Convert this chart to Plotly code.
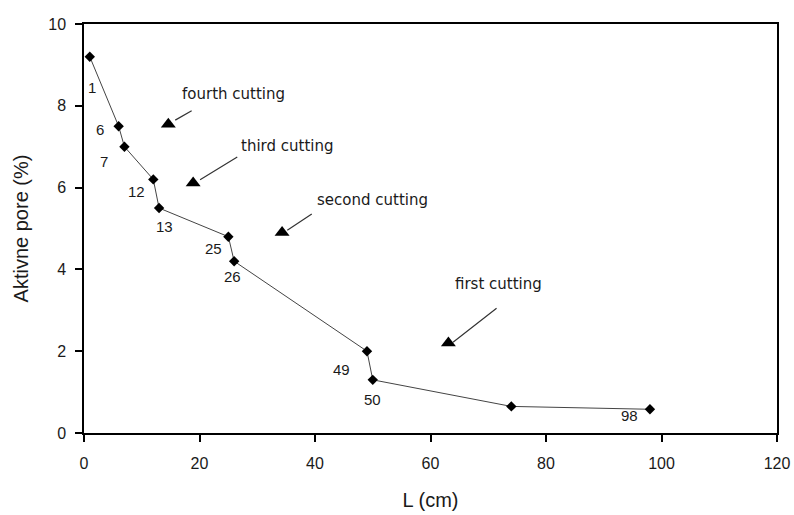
import plotly.graph_objects as go

# Active pore fraction versus sample length L
length_cm = [1, 6, 7, 12, 13, 25, 26, 49, 50, 74, 98]
active_pore = [9.2, 7.5, 7.0, 6.2, 5.5, 4.8, 4.2, 2.0, 1.3, 0.65, 0.58]

# Point labels (sample length), with pixel offsets from each marker
point_labels = ["1", "6", "7", "12", "13", "25", "26", "49", "50", "", "98"]
label_dx = [2, -19, -20, -17, 5, -15, -2, -25, 0, 0, -20]
label_dy = [31, 3, 15, 12, 18, 12, 15, 18, 20, 0, 6]

# Cutting stages: triangle positions, arrow tails/heads and text positions
cut_names = ["fourth cutting", "third cutting", "second cutting", "first cutting"]
cut_tri_x = [14.6, 18.9, 34.3, 63.1]
cut_tri_y = [7.55, 6.11, 4.90, 2.20]
cut_tail_x = [18.9, 26.8, 39.7, 71.7]
cut_tail_y = [7.90, 6.77, 5.38, 3.08]
cut_head_x = [15.8, 20.1, 35.2, 63.9]
cut_head_y = [7.65, 6.19, 4.96, 2.22]
cut_text_x = [25.8, 35.2, 49.9, 71.7]
cut_text_y = [8.29, 7.02, 5.70, 3.64]

x_ticks = [0, 20, 40, 60, 80, 100, 120]
y_ticks = [0, 2, 4, 6, 8, 10]

fig = go.Figure()

fig.add_trace(go.Scatter(
    x=length_cm, y=active_pore, mode="lines+markers",
    line=dict(color="#444444", width=1),
    marker=dict(symbol="diamond", size=8, color="black"),
    showlegend=False, hoverinfo="skip",
))

fig.add_trace(go.Scatter(
    x=cut_tri_x, y=cut_tri_y, mode="markers",
    marker=dict(symbol="triangle-up", size=13, color="black"),
    showlegend=False, hoverinfo="skip",
))

annotations = []
for lx, ly, lab, dx, dy in zip(length_cm, active_pore, point_labels, label_dx, label_dy):
    if not lab:
        continue
    annotations.append(dict(
        x=lx, y=ly, xref="x", yref="y", text=lab, showarrow=False,
        xshift=dx, yshift=-dy,
        font=dict(family="Liberation Sans, Arial", size=15, color="#1a1a1a"),
    ))

for name, hx, hy, tx, ty, px, py in zip(cut_names, cut_head_x, cut_head_y,
                                        cut_tail_x, cut_tail_y, cut_text_x, cut_text_y):
    annotations.append(dict(
        x=hx, y=hy, xref="x", yref="y", ax=tx, ay=ty, axref="x", ayref="y",
        text="", showarrow=True, arrowhead=0, arrowwidth=1.2, arrowcolor="#333333",
    ))
    annotations.append(dict(
        x=px, y=py, xref="x", yref="y", text=name, showarrow=False,
        font=dict(family="DejaVu Sans", size=15, color="#1a1a1a"),
    ))

axis_font = dict(family="Liberation Sans, Arial", size=16, color="#1a1a1a")
title_font = dict(family="Liberation Sans, Arial", size=20, color="#1a1a1a")

fig.update_layout(
    width=794, height=515,
    margin=dict(l=84, r=17, t=24, b=82),
    paper_bgcolor="white", plot_bgcolor="white",
    annotations=annotations,
    xaxis=dict(
        range=[0, 120], tickvals=x_ticks, ticks="outside", ticklen=7,
        tickwidth=1.5, tickcolor="black", showline=True, linecolor="black",
        linewidth=1.5, mirror=True, showgrid=False, zeroline=False,
        tickfont=axis_font, ticklabelstandoff=8, automargin=False,
        title=dict(text="L (cm)", font=title_font, standoff=22),
    ),
    yaxis=dict(
        range=[0, 10], tickvals=y_ticks, ticks="outside", ticklen=7,
        tickwidth=1.5, tickcolor="black", showline=True, linecolor="black",
        linewidth=1.5, mirror=True, showgrid=False, zeroline=False,
        tickfont=axis_font, ticklabelstandoff=6, automargin=False,
        title=dict(text="Aktivne pore (%)", font=title_font, standoff=14),
    ),
)

fig.write_html("out.html")
